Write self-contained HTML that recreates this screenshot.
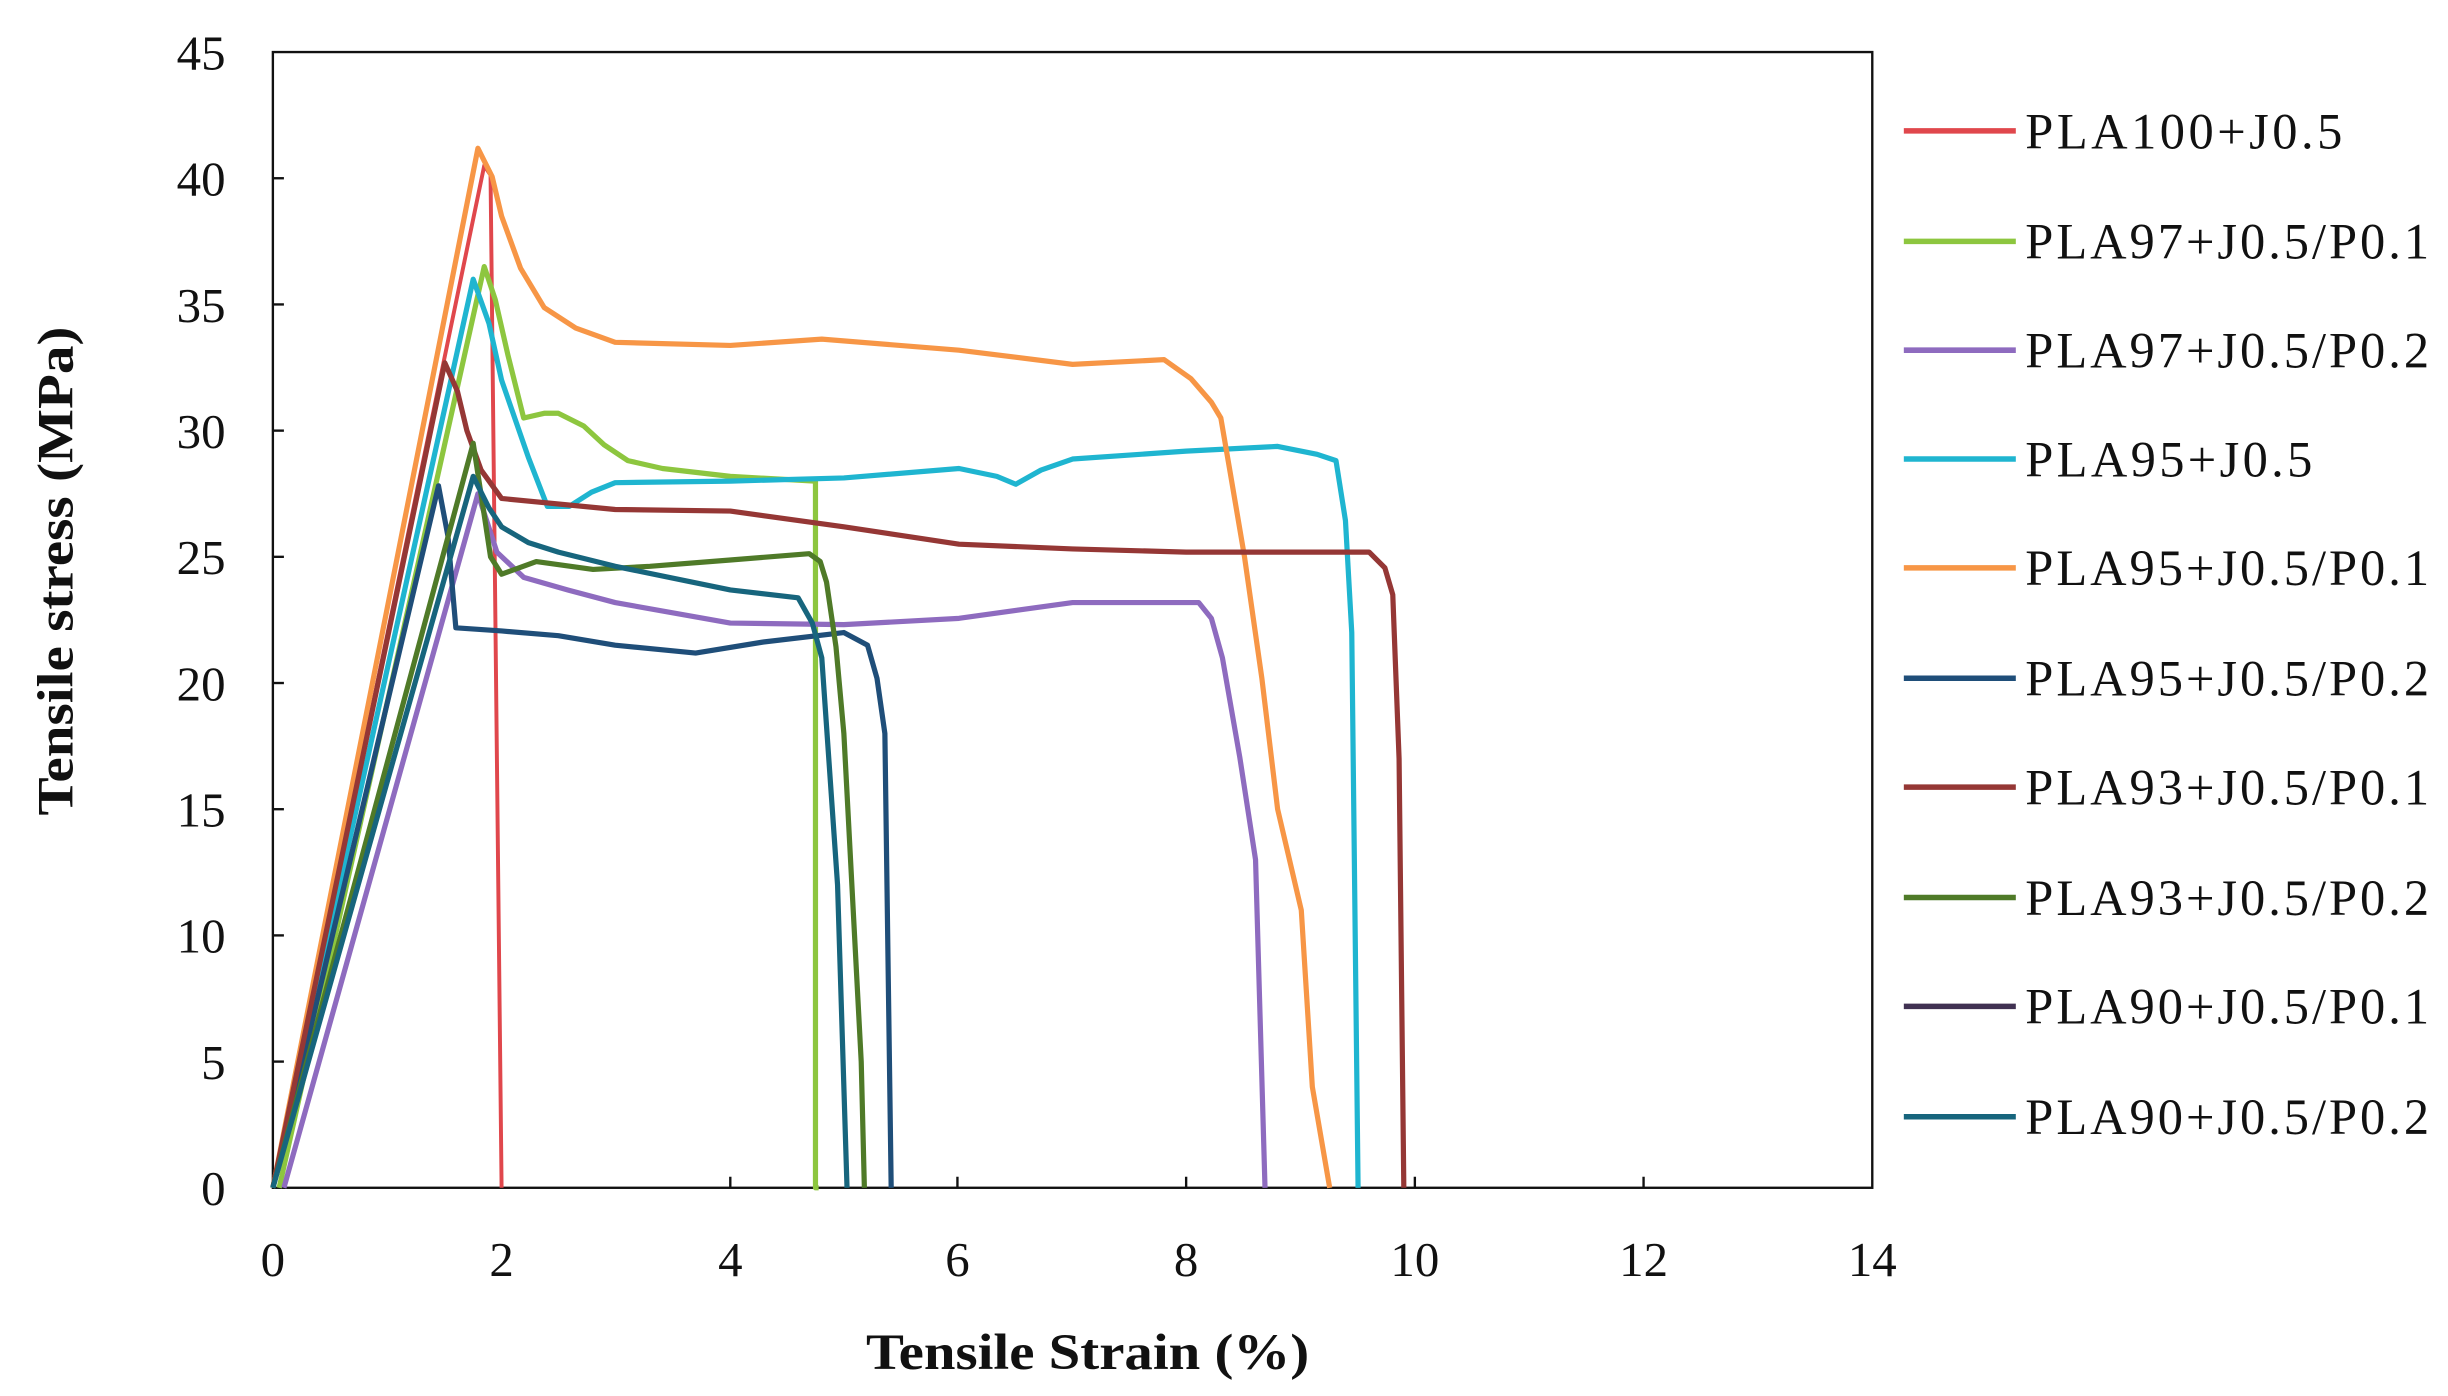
<!DOCTYPE html>
<html><head><meta charset="utf-8"><style>
html,body{margin:0;padding:0;background:#fff;}
svg{display:block;}
text{font-family:"Liberation Serif",serif;fill:#111;}
</style></head><body>
<svg width="2448" height="1396" viewBox="0 0 1552 885" preserveAspectRatio="none" xmlns="http://www.w3.org/2000/svg">
<rect width="1552" height="885" fill="#fff"/>
<g stroke="#111" stroke-width="1.5" fill="none">
<rect x="173" y="33" width="1014" height="720"/>
<line x1="173" y1="113" x2="180" y2="113"/><line x1="173" y1="193" x2="180" y2="193"/>
<line x1="173" y1="273" x2="180" y2="273"/><line x1="173" y1="353" x2="180" y2="353"/>
<line x1="173" y1="433" x2="180" y2="433"/><line x1="173" y1="513" x2="180" y2="513"/>
<line x1="173" y1="593" x2="180" y2="593"/><line x1="173" y1="673" x2="180" y2="673"/>
<line x1="318" y1="753" x2="318" y2="746"/><line x1="463" y1="753" x2="463" y2="746"/>
<line x1="607" y1="753" x2="607" y2="746"/><line x1="752" y1="753" x2="752" y2="746"/>
<line x1="897" y1="753" x2="897" y2="746"/><line x1="1042" y1="753" x2="1042" y2="746"/>
</g>
<g font-size="31" text-anchor="end">
<text x="143" y="44">45</text><text x="143" y="124">40</text><text x="143" y="204">35</text>
<text x="143" y="284">30</text><text x="143" y="364">25</text><text x="143" y="444">20</text>
<text x="143" y="524">15</text><text x="143" y="604">10</text><text x="143" y="684">5</text>
<text x="143" y="764">0</text>
</g>
<g font-size="31" text-anchor="middle">
<text x="173" y="809">0</text><text x="318" y="809">2</text><text x="463" y="809">4</text>
<text x="607" y="809">6</text><text x="752" y="809">8</text><text x="897" y="809">10</text>
<text x="1042" y="809">12</text><text x="1187" y="809">14</text>
</g>
<text x="549" y="868" font-size="32" font-weight="bold" textLength="281" lengthAdjust="spacingAndGlyphs">Tensile  Strain  (%)</text>
<text transform="translate(46,517) rotate(-90)" font-size="32" font-weight="bold" textLength="310" lengthAdjust="spacingAndGlyphs">Tensile  stress  (MPa)</text>
<g fill="none" stroke-width="3.3" stroke-linejoin="round">
<polyline stroke="#e0474c" stroke-width="2.5" points="173,753 307,105 311,111 318,753"/>
<polyline stroke="#8dc63f" points="177,753 307,169 314,190 322,225 332,265 345,262 354,262 370,270 383,282 398,292 420,297 463,302 517,305 517,753 519,753"/>
<polyline stroke="#8e6bbf" points="180,753 303,313 315,350 332,366 360,374 390,382 463,395 535,396 608,392 680,382 760,382 768,392 775,417 786,480 796,545 802,753"/>
<polyline stroke="#1fb5d0" points="173,753 300,177 310,205 318,241 335,290 347,321 361,321 375,312 390,306 463,305 535,303 608,297 632,302 644,307 660,298 680,291 752,286 810,283 835,288 847,292 853,330 857,401 861,753"/>
<polyline stroke="#f79646" points="173,753 303,94 312,112 318,137 330,170 345,195 365,208 390,217 463,219 521,215 608,222 680,231 738,228 755,240 768,255 774,265 780,300 789,353 800,430 810,513 825,577 832,689 843,753"/>
<polyline stroke="#1f4e79" points="173,753 278,308 284,340 289,398 318,400 354,403 390,409 441,414 484,407 535,401 550,409 556,430 561,465 565,753"/>
<polyline stroke="#953735" points="173,753 282,230 290,248 296,273 305,298 318,316 390,323 463,324 535,334 608,345 680,348 752,350 868,350 878,360 883,377 887,481 890,753"/>
<polyline stroke="#4f7a28" points="173,753 300,281 306,320 311,353 318,364 340,356 376,361 412,359 463,355 513,351 520,356 524,369 530,410 535,465 546,673 548,753"/>
<polyline stroke="#17657d" points="173,753 300,302 310,322 318,334 335,344 354,350 390,359 463,374 506,379 515,395 521,417 531,561 537,753"/>
</g>
<g stroke-width="3.5">
<line x1="1207" y1="83" x2="1278" y2="83" stroke="#e0474c"/>
<line x1="1207" y1="153" x2="1278" y2="153" stroke="#8dc63f"/>
<line x1="1207" y1="222" x2="1278" y2="222" stroke="#8e6bbf"/>
<line x1="1207" y1="291" x2="1278" y2="291" stroke="#1fb5d0"/>
<line x1="1207" y1="360" x2="1278" y2="360" stroke="#f79646"/>
<line x1="1207" y1="430" x2="1278" y2="430" stroke="#1f4e79"/>
<line x1="1207" y1="499" x2="1278" y2="499" stroke="#953735"/>
<line x1="1207" y1="569" x2="1278" y2="569" stroke="#4f7a28"/>
<line x1="1207" y1="638" x2="1278" y2="638" stroke="#403152"/>
<line x1="1207" y1="708" x2="1278" y2="708" stroke="#17657d"/>
</g>
<g font-size="32" lengthAdjust="spacingAndGlyphs">
<text x="1284" y="94" textLength="201">PLA100+J0.5</text>
<text x="1284" y="164" textLength="256">PLA97+J0.5/P0.1</text>
<text x="1284" y="233" textLength="256">PLA97+J0.5/P0.2</text>
<text x="1284" y="302" textLength="182">PLA95+J0.5</text>
<text x="1284" y="371" textLength="256">PLA95+J0.5/P0.1</text>
<text x="1284" y="441" textLength="256">PLA95+J0.5/P0.2</text>
<text x="1284" y="510" textLength="256">PLA93+J0.5/P0.1</text>
<text x="1284" y="580" textLength="256">PLA93+J0.5/P0.2</text>
<text x="1284" y="649" textLength="256">PLA90+J0.5/P0.1</text>
<text x="1284" y="719" textLength="256">PLA90+J0.5/P0.2</text>
</g>
</svg>
</body></html>
